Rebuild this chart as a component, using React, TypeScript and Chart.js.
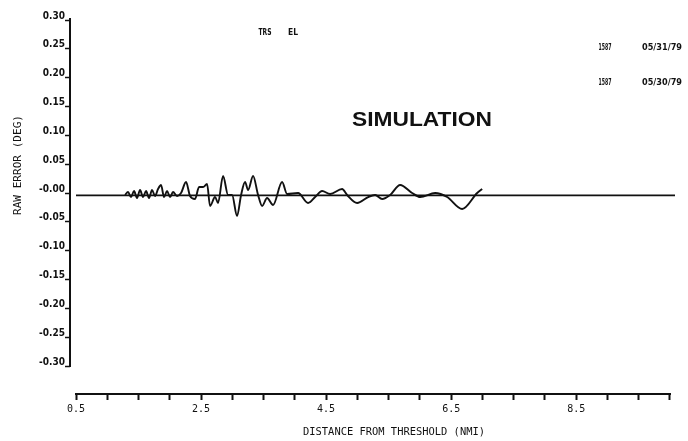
import React, { useEffect, useRef } from "react";
import { Chart, registerables } from "chart.js";

Chart.register(...registerables);

// ---- data ----
const WAVE_X = [
  1.284, 1.332, 1.38, 1.428, 1.476, 1.524, 1.572, 1.62, 1.668, 1.716, 1.764, 1.812, 1.86, 1.908,
  1.956, 2.004, 2.052, 2.116, 2.18, 2.26, 2.324, 2.404, 2.468, 2.532, 2.596, 2.644, 2.724, 2.772,
  2.852, 2.932, 2.996, 3.076, 3.14, 3.204, 3.252, 3.332, 3.412, 3.476, 3.556, 3.652, 3.796, 3.876,
  4.052, 4.212, 4.324, 4.436, 4.564, 4.756, 4.836, 4.996, 5.172, 5.284, 5.396, 5.524, 5.684, 5.876,
  6.004, 6.244, 6.436, 6.676, 6.916, 6.996,
];
const WAVE_Y = [
  -0.0035, 0.0017, -0.007, 0.0035, -0.0087, 0.0052, -0.007, 0.0035, -0.0087, 0.0052, -0.0052, 0.0069,
  0.0139, -0.007, 0.0035, -0.007, 0.0017, -0.0052, 0.0, 0.019, -0.0052, -0.0104, 0.0104, 0.0104,
  0.0156, -0.0225, -0.007, -0.0173, 0.0295, -0.0035, -0.0035, -0.0399, -0.0035, 0.019, 0.0052,
  0.0295, -0.0035, -0.0225, -0.0087, -0.0208, 0.019, -0.0017, 0.0, -0.0173, -0.007, 0.0035, -0.0017,
  0.0069, -0.0035, -0.0173, -0.007, -0.0035, -0.0104, -0.0035, 0.0139, 0.0, -0.007, 0.0, -0.007,
  -0.0277, 0.0, 0.0069,
];
const FLAT_X = [0.5, 10.08];
const FLAT_Y = [-0.004, -0.004];

const Y_TICKS = [0.3, 0.25, 0.2, 0.15, 0.1, 0.05, 0.0, -0.05, -0.1, -0.15, -0.2, -0.25, -0.3];
const Y_TICK_LABELS = [
  "0.30", "0.25", "0.20", "0.15", "0.10", "0.05", "-0.00",
  "-0.05", "-0.10", "-0.15", "-0.20", "-0.25", "-0.30",
];
const X_TICKS = [
  0.5, 1.0, 1.5, 2.0, 2.5, 3.0, 3.5, 4.0, 4.5, 5.0, 5.5, 6.0, 6.5, 7.0, 7.5, 8.0, 8.5, 9.0, 9.5, 10.0,
];
const X_LABELED = [0.5, 2.5, 4.5, 6.5, 8.5];

const X_MIN = 0.404;
const X_MAX = 10.096;
const Y_MIN = -0.3468;
const Y_MAX = 0.3;

const INK = "#111111";

function fitText(
  ctx: CanvasRenderingContext2D,
  text: string,
  cx: number,
  cy: number,
  width: number,
  font: string,
  rot = 0
) {
  ctx.save();
  ctx.font = font;
  const w = ctx.measureText(text).width;
  ctx.translate(cx, cy);
  if (rot) ctx.rotate(rot);
  ctx.scale(width / w, 1);
  ctx.textAlign = "center";
  ctx.textBaseline = "middle";
  ctx.fillStyle = INK;
  ctx.fillText(text, 0, 0);
  ctx.restore();
}

const decorPlugin = {
  id: "decor",
  afterDraw(chart: any) {
    const ctx: CanvasRenderingContext2D = chart.ctx;
    const xs = chart.scales.x;
    const ys = chart.scales.y;
    const area = chart.chartArea;
    ctx.save();
    ctx.strokeStyle = INK;
    ctx.lineWidth = 2;
    // y axis line
    ctx.beginPath();
    ctx.moveTo(area.left, ys.getPixelForValue(Y_TICKS[0]) - 2);
    ctx.lineTo(area.left, ys.getPixelForValue(Y_TICKS[Y_TICKS.length - 1]) + 1);
    ctx.stroke();
    // x axis line
    ctx.beginPath();
    ctx.moveTo(xs.getPixelForValue(X_TICKS[0]) - 1, area.bottom + 1);
    ctx.lineTo(xs.getPixelForValue(X_TICKS[X_TICKS.length - 1]) + 1, area.bottom + 1);
    ctx.stroke();
    ctx.restore();

    const small = "bold 9px 'DejaVu Sans Condensed'";
    fitText(ctx, "TRS", 265, 33, 13, small);
    fitText(ctx, "EL", 293, 33, 10, small);
    fitText(ctx, "1587", 605, 48, 13, small);
    fitText(ctx, "05/31/79", 662, 48, 40, small);
    fitText(ctx, "1587", 605, 83, 13, small);
    fitText(ctx, "05/30/79", 662, 83, 40, small);
    fitText(ctx, "SIMULATION", 422, 120, 140, "bold 21px 'Liberation Sans'");
    fitText(ctx, "DISTANCE FROM THRESHOLD (NMI)", 394, 432, 182, "10px 'DejaVu Sans Mono'");
    fitText(ctx, "RAW ERROR (DEG)", 18, 165, 100, "10px 'DejaVu Sans Mono'", -Math.PI / 2);
  },
};

export default function App() {
  const ref = useRef<HTMLCanvasElement | null>(null);

  useEffect(() => {
    document.body.style.margin = "0";
    document.body.style.overflow = "hidden";
    document.body.style.background = "#ffffff";
    if (!ref.current) return;
    const chart = new Chart(ref.current, {
      type: "line",
      data: {
        datasets: [
          {
            label: "1587 05/30/79",
            data: FLAT_X.map((x, i) => ({ x, y: FLAT_Y[i] })),
            borderColor: INK,
            borderWidth: 1.8,
            pointRadius: 0,
            fill: false,
          },
          {
            label: "1587 05/31/79",
            data: WAVE_X.map((x, i) => ({ x, y: WAVE_Y[i] })),
            borderColor: INK,
            borderWidth: 1.9,
            pointRadius: 0,
            cubicInterpolationMode: "monotone",
            fill: false,
          },
        ],
      },
      options: {
        animation: false,
        responsive: true,
        maintainAspectRatio: false,
        layout: { padding: { left: 0, right: 12, top: 20, bottom: 0 } },
        plugins: {
          legend: { display: false },
          tooltip: { enabled: false },
          title: { display: false },
        },
        scales: {
          x: {
            type: "linear",
            min: X_MIN,
            max: X_MAX,
            border: { display: false },
            grid: {
              drawOnChartArea: false,
              drawTicks: true,
              tickLength: 7,
              tickWidth: 2,
              tickColor: INK,
            },
            afterBuildTicks: (scale: any) => {
              scale.ticks = X_TICKS.map((v) => ({ value: v }));
            },
            afterFit: (scale: any) => {
              scale.height = 48;
            },
            ticks: {
              autoSkip: false,
              maxRotation: 0,
              padding: 3,
              color: INK,
              font: { family: "'DejaVu Sans Mono'", size: 10 },
              callback: (v: any) => {
                const n = Number(v);
                return X_LABELED.some((l) => Math.abs(l - n) < 1e-6) ? n.toFixed(1) : "";
              },
            },
          },
          y: {
            type: "linear",
            min: Y_MIN,
            max: Y_MAX,
            border: { display: false },
            grid: {
              drawOnChartArea: false,
              drawTicks: true,
              tickLength: 5,
              tickWidth: 1.5,
              tickColor: INK,
            },
            afterBuildTicks: (scale: any) => {
              scale.ticks = Y_TICKS.map((v) => ({ value: v }));
            },
            afterFit: (scale: any) => {
              scale.width = 70;
            },
            ticks: {
              autoSkip: false,
              padding: 0,
              labelOffset: -4,
              color: INK,
              font: { family: "'DejaVu Sans Condensed'", size: 10, weight: "bold" },
              callback: (v: any) => {
                const n = Number(v);
                const idx = Y_TICKS.findIndex((t) => Math.abs(t - n) < 1e-6);
                return idx >= 0 ? Y_TICK_LABELS[idx] : "";
              },
            },
          },
        },
      },
      plugins: [decorPlugin],
    } as any);
    return () => chart.destroy();
  }, []);

  return (
    <div style={{ position: "relative", width: 688, height: 441 }}>
      <canvas ref={ref} />
    </div>
  );
}
